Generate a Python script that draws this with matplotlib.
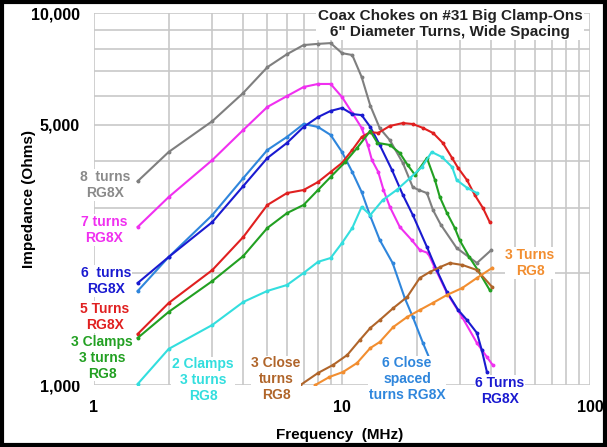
import matplotlib
matplotlib.use("Agg")
import matplotlib.pyplot as plt
from matplotlib.ticker import FixedLocator, NullFormatter, FixedFormatter
from matplotlib.patches import Rectangle

plt.rcParams['font.family'] = ['Liberation Sans', 'DejaVu Sans']

# ---- data (frequency MHz, impedance Ohms) ----
gray_f = [1.5, 2, 3, 4, 5, 6, 7, 8, 9, 10, 11, 12, 13, 14.2, 15.6, 17.6, 19.3, 20.5, 22, 23.3, 25, 29, 35, 40]
gray_z = [3530, 4230, 5120, 6100, 7150, 7750, 8200, 8260, 8300, 7800, 7710, 6730, 5640, 4900, 4550, 3950, 3400, 3340, 3280, 2950, 2700, 2335, 2128, 2306]

magenta_f = [1.5, 2, 3, 4, 5, 6, 7, 8, 9, 10, 11, 12, 12.7, 13.2, 14, 14.7, 15.6, 17.1, 19.1, 20.6, 22.2, 23.6, 26.5, 30.5, 35, 38.4, 40.5]
magenta_z = [2660, 3200, 4025, 4850, 5590, 5980, 6325, 6445, 6445, 5945, 5385, 4910, 4420, 4025, 3740, 3345, 3010, 2660, 2453, 2306, 2264, 2076, 1767, 1523, 1297, 1189, 1132]

ltblue_f = [1.5, 2, 3, 4, 5, 6, 7, 8, 9, 10, 11, 12, 13, 14.2, 16, 17.9, 19.3, 21.2, 23.3, 25.5]
ltblue_z = [1789, 2208, 2864, 3600, 4283, 4643, 5032, 4940, 4700, 4230, 3738, 3302, 2845, 2453, 2128, 1714, 1523, 1297, 1118, 1000]

blue_f = [1.5, 2, 3, 4, 5, 6, 7, 8, 9, 10, 11, 12, 13, 14.2, 15.9, 17.6, 19.3, 22, 24.1, 26.5, 29.4, 31.9, 35, 36.6, 38.4]
blue_z = [1880, 2208, 2742, 3427, 4075, 4475, 4940, 5250, 5455, 5555, 5350, 5315, 4940, 4418, 3785, 3242, 2864, 2350, 2037, 1778, 1591, 1495, 1380, 1242, 1084]

red_f = [1.5, 2, 3, 4, 5, 6, 7, 8, 9, 10, 11, 12, 13, 14, 15.6, 17.6, 19.3, 21.2, 23.3, 25.5, 27.8, 29.4, 31.9, 34.3, 37, 39.4]
red_z = [1371, 1661, 2037, 2500, 3047, 3281, 3343, 3512, 3738, 3954, 4283, 4640, 4786, 4760, 4970, 5060, 5030, 4910, 4757, 4475, 4075, 3830, 3557, 3242, 2992, 2742]

green_f = [1.5, 2, 3, 4, 5, 6, 7, 8, 9, 10.3, 11.5, 13, 13.9, 15.6, 17.1, 18.4, 19.7, 22, 23.7, 24.8, 26.5, 28.5, 29.8, 32.6, 35.3, 39.4]
green_z = [1338, 1572, 1903, 2222, 2643, 2898, 3048, 3343, 3625, 3975, 4336, 4817, 4475, 4418, 4204, 3902, 3670, 4075, 3557, 3202, 2900, 2643, 2453, 2208, 2037, 1800]

cyan_f = [1.5, 2, 3, 4, 5, 6, 7, 8, 9, 10, 11, 12, 13, 14.6, 16.6, 18.8, 21, 23, 25.3, 27.8, 29, 32, 35]
cyan_z = [1006, 1250, 1450, 1672, 1790, 1857, 2000, 2143, 2195, 2408, 2643, 3010, 2864, 3142, 3343, 3600, 3855, 4230, 4100, 3855, 3557, 3385, 3281]

brown_f = [6.8, 8, 9.2, 10.5, 11.8, 13, 14.2, 16.1, 18.3, 20.6, 22.6, 24.9, 27.2, 30.6, 35, 40.3]
brown_z = [1000, 1077, 1132, 1204, 1321, 1423, 1495, 1610, 1724, 1940, 2013, 2076, 2128, 2102, 2037, 1835]

orange_f = [7.8, 8.9, 10.1, 11.5, 13, 14.2, 16.1, 18.3, 20.6, 23.2, 26.5, 30.5, 35, 40.3]
orange_z = [1000, 1051, 1084, 1146, 1257, 1305, 1432, 1523, 1591, 1661, 1746, 1822, 1940, 2064]

series = [
    (gray_f, gray_z, '#7f7f7f'),
    (magenta_f, magenta_z, '#f030f0'),
    (ltblue_f, ltblue_z, '#2f86dc'),
    (blue_f, blue_z, '#1a1ad0'),
    (red_f, red_z, '#e02020'),
    (green_f, green_z, '#22a022'),
    (cyan_f, cyan_z, '#33dede'),
    (brown_f, brown_z, '#b0652a'),
    (orange_f, orange_z, '#f28e30'),
]

y_major = [1000, 5000, 10000]
y_major_labels = ['1,000', '5,000', '10,000']
x_major = [1, 10, 100]
x_major_labels = ['1', '10', '100']

fig = plt.figure(figsize=(6.07, 4.47), dpi=100)
ax = fig.add_axes([94/607, 1-385/447, (590-94)/607, (385-13)/447])
ax.set_xscale('log')
ax.set_yscale('log')
ax.set_xlim(1, 100)
ax.set_ylim(1000, 10000)

for f, z, c in series:
    ax.plot(f, z, color=c, lw=1.5, marker='o', ms=1.8, zorder=3)

ax.yaxis.set_major_locator(FixedLocator(y_major))
ax.yaxis.set_major_formatter(FixedFormatter(y_major_labels))
ax.yaxis.set_minor_locator(FixedLocator([2000, 3000, 4000, 6000, 7000, 8000, 9000]))
ax.yaxis.set_minor_formatter(NullFormatter())
ax.xaxis.set_major_locator(FixedLocator(x_major))
ax.xaxis.set_major_formatter(FixedFormatter(x_major_labels))
ax.xaxis.set_minor_locator(FixedLocator([2, 3, 4, 5, 6, 7, 8, 9, 20, 30, 40, 50, 60, 70, 80, 90]))
ax.xaxis.set_minor_formatter(NullFormatter())
ax.tick_params(which='both', length=0)
ax.tick_params(axis='y', pad=10, labelsize=11.5)
ax.tick_params(axis='x', pad=11, labelsize=11.5)
for lab in ax.get_xticklabels() + ax.get_yticklabels():
    lab.set_fontweight('bold')
ax.grid(True, which='both', color='#c8c8c8', lw=1.2, zorder=0)
for s in ax.spines.values():
    s.set_visible(False)

ax.set_xlabel('Frequency  (MHz)', fontsize=11, fontweight='bold')
ax.set_ylabel('Impedance (Ohms)', fontsize=11, fontweight='bold')
ax.xaxis.set_label_coords((340-94)/496, -(428-385)/372)
ax.yaxis.set_label_coords(-(94-36)/496, 0.5)

bb = dict(facecolor='white', edgecolor='none', pad=0.5)

def lab(x, y, s, c):
    fig.text(x/607, 1-y/447, s, color=c, fontsize=10, fontweight='bold',
             ha='center', va='center', linespacing=1.15, bbox=bb, zorder=5)

lab(105, 185, '8  turns\nRG8X', '#8a8a8a')
lab(104, 230, '7 turns\nRG8X', '#f030f0')
lab(106, 281, '6  turns\nRG8X', '#1a1ad0')
lab(105, 317, '5 Turns\nRG8X', '#e02020')
lab(102, 358, '3 Clamps\n3 turns\nRG8', '#22a022')
lab(203, 380, '2 Clamps\n3 turns\nRG8', '#33dede')
lab(276, 379, '3 Close\nturns\nRG8', '#b0652a')
lab(407, 379, '6 Close\nspaced\nturns RG8X', '#2f86dc')
lab(500, 391, '6 Turns\nRG8X', '#1a1ad0')
lab(530, 263, '3 Turns\nRG8', '#f28e30')

fig.text(450/607, 1-24/447, 'Coax Chokes on #31 Big Clamp-Ons\n6" Diameter Turns, Wide Spacing',
         ha='center', va='center', fontsize=11, fontweight='bold', color='#222222',
         linespacing=1.1, bbox=dict(facecolor='white', edgecolor='none', pad=1), zorder=5)

fig.patches.append(Rectangle((0.003, 0.004), 0.994, 0.992, transform=fig.transFigure,
                             fill=False, edgecolor='black', lw=3))

fig.savefig('out.png', dpi=100)
